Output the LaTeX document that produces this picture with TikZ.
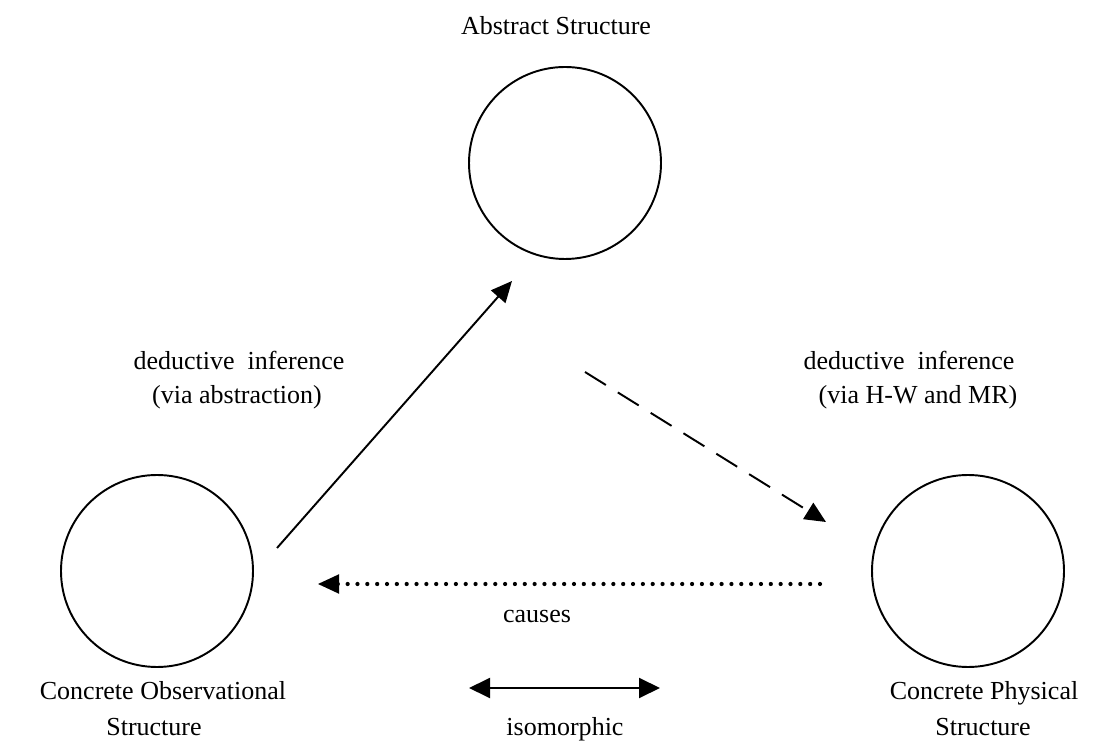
\documentclass[tikz,border=0pt]{standalone}
\usepackage{fontspec}
\setmainfont{Liberation Serif}
\usetikzlibrary{arrows.meta,positioning}

\begin{document}
\begin{tikzpicture}[
    struct/.style={draw,circle,line width=1.1pt,minimum size=3.84cm,inner sep=0pt},
    lbl/.style={anchor=base,inner sep=0pt,font=\fontsize{14.8}{17.8}\selectfont},
    arr/.style={-{Triangle[length=0.42cm,width=0.38cm]},line width=1.1pt},
    dotline/.style={line width=2.4pt,line cap=round,dash pattern=on 0pt off 5.6pt},
    dashline/.style={dash pattern=on 14pt off 8pt},
]
\useasboundingbox (0,0) rectangle (22.12,14.84);

% ---- Structures ----------------------------------------------------------
\node[struct] (abs) at (11.30,11.58) {};
\node[struct] (obs) at (3.14,3.42)   {};
\node[struct] (phy) at (19.36,3.42)  {};

\node[lbl] (tAbs) at (11.12,14.14) {Abstract Structure};
\node[lbl] (tObs1) at (3.26,0.86) {Concrete Observational};
\node[lbl] (tObs2) at (3.08,0.14) {Structure};
\node[lbl] (tPhy1) at (19.68,0.86) {Concrete Physical};
\node[lbl] (tPhy2) at (19.66,0.14) {Structure};

% ---- Arrow ends
\coordinate (obsOut) at (5.54,3.88);
\coordinate (absIn)  at (10.24,9.22);
\coordinate (absOut) at (11.70,7.40);
\coordinate (phyIn)  at (16.52,4.40);
\coordinate (phyOut) at (16.40,3.16);
\coordinate (obsIn)  at (6.36,3.16);
\coordinate (isoL)   at (9.38,1.08);
\coordinate (isoR)   at (13.20,1.08);

% ---- Inference arrows ----------------------------------------------------
\draw[arr] (obsOut) -- (absIn);
\node[lbl] (dedL1) at (4.78,7.44) {deductive\ \ inference};
\node[lbl] (dedL2) at (4.74,6.76) {(via abstraction)};

\draw[arr,dashline] (absOut) -- (phyIn);
\node[lbl] (dedR1) at (18.18,7.44) {deductive\ \ inference};
\node[lbl] (dedR2) at (18.36,6.76) {(via H-W and MR)};

% ---- Causes --------------------------------------------------------------
\draw[dotline] (phyOut) -- ([xshift=0.35cm]obsIn);
\draw[arr] ([xshift=0.3cm]obsIn) -- (obsIn);
\node[lbl] (cau) at (10.74,2.38) {causes};

% ---- Isomorphic ----------------------------------------------------------
\draw[{Triangle[length=0.42cm,width=0.4cm]}-{Triangle[length=0.42cm,width=0.4cm]},line width=1.1pt] (isoL) -- (isoR);
\node[lbl] (iso) at (11.30,0.14) {isomorphic};

\end{tikzpicture}
\end{document}
